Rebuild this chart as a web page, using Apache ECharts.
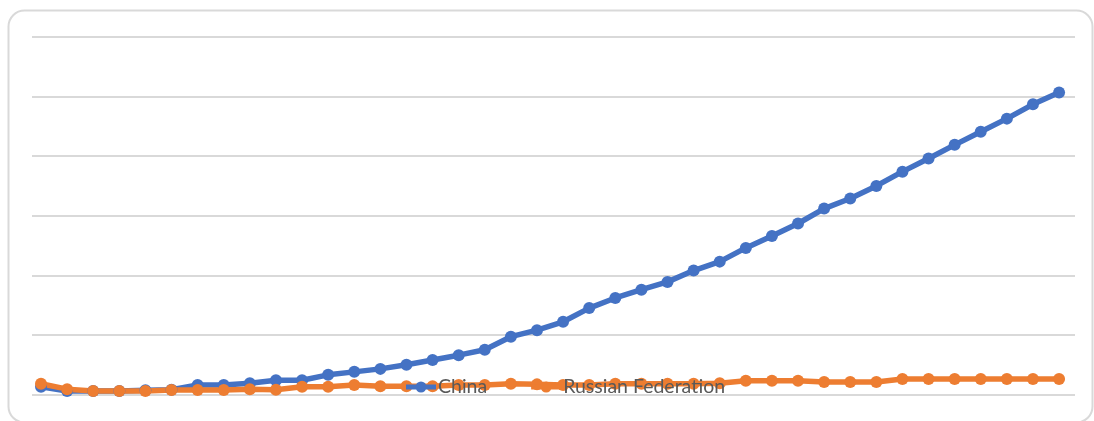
<!DOCTYPE html>
<html>
<head>
<meta charset="utf-8">
<script src="https://cdn.jsdelivr.net/npm/echarts@6/dist/echarts.min.js"></script>
<style>
html,body{margin:0;padding:0;background:#fff;}
#chart{width:1094px;height:421px;}
</style>
</head>
<body>
<div id="chart"></div>
<script>
// Series values (in gridline units), 40 points each
const seriesNames = ["China", "Russian Federation"];
const china = [0.13,0.06,0.06,0.06,0.07,0.08,0.16,0.16,0.19,0.24,
               0.24,0.33,0.38,0.43,0.50,0.58,0.66,0.75,0.97,1.08,
               1.22,1.45,1.62,1.76,1.89,2.08,2.23,2.46,2.66,2.87,
               3.12,3.29,3.50,3.74,3.96,4.19,4.41,4.63,4.87,5.07];
const russia = [0.18,0.09,0.06,0.06,0.06,0.075,0.075,0.075,0.09,0.08,
                0.13,0.13,0.16,0.14,0.14,0.14,0.16,0.16,0.18,0.17,
                0.16,0.16,0.18,0.18,0.18,0.18,0.19,0.23,0.23,0.23,
                0.21,0.21,0.21,0.26,0.26,0.26,0.26,0.26,0.26,0.26];
const colors = ["#4472C4", "#ED7D31"];

const chart = echarts.init(document.getElementById('chart'));
const toPairs = arr => arr.map((v, i) => [i, v]);
const mkSeries = (name, data, color) => ({
  name: name,
  type: 'line',
  data: toPairs(data),
  symbol: 'circle',
  symbolSize: 12,
  lineStyle: { width: 5.5, color: color },
  itemStyle: { color: color },
  emphasis: { disabled: true },
  z: 2
});
// legend icon: thick line with a round marker
const lineMarkerIcon = 'path://M0,4.5H30V9.5H0Z M15,1.5A5.5,5.5 0 1 1 15,12.5A5.5,5.5 0 1 1 15,1.5Z';
chart.setOption({
  animation: false,
  grid: { left: 32, right: 19, top: 37, bottom: 26.5, containLabel: false },
  xAxis: {
    type: 'value', min: -0.345, max: 39.61,
    axisLine: { show: false }, axisTick: { show: false },
    axisLabel: { show: false }, splitLine: { show: false }
  },
  yAxis: {
    type: 'value', min: 0, max: 6, interval: 1,
    axisLine: { show: false }, axisTick: { show: false },
    axisLabel: { show: false },
    splitLine: { show: true, lineStyle: { color: '#d9d9d9', width: 2 } }
  },
  legend: {
    data: seriesNames.map(n => ({ name: n, icon: lineMarkerIcon })),
    left: 401, top: 372,
    itemWidth: 30, itemHeight: 11, itemGap: 44,
    textStyle: { color: '#595959', fontSize: 19.5, fontFamily: 'Lato, "Open Sans", sans-serif', padding: [0,0,0,-3] },
    z: 10
  },
  graphic: [{
    type: 'rect', left: 6, top: 8, z: -10, silent: true,
    shape: { width: 1084, height: 412, r: 16 },
    style: { fill: 'none', stroke: '#d9d9d9', lineWidth: 2 }
  }],
  series: [
    mkSeries(seriesNames[0], china, colors[0]),
    mkSeries(seriesNames[1], russia, colors[1])
  ]
});
</script>
</body>
</html>
